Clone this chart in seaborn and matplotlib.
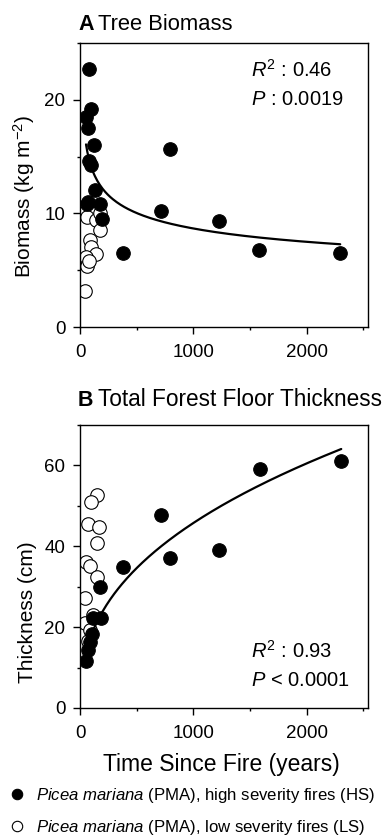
import numpy as np
import pandas as pd
import matplotlib
matplotlib.use("Agg")
import matplotlib.pyplot as plt
import seaborn as sns
from matplotlib.lines import Line2D
from matplotlib.ticker import MultipleLocator

# A: tree biomass (kg m-2) vs time since fire (years)
biomass_hs_age = [82, 53, 94, 67, 126, 82, 94, 132, 60, 70, 176, 196, 376, 713, 798, 1226, 1580, 2295]
biomass_hs = [22.7, 18.5, 19.2, 17.5, 16.0, 14.6, 14.3, 12.1, 10.8, 11.0, 10.8, 9.5, 6.5, 10.2, 15.7, 9.3, 6.8, 6.5]
biomass_ls_age = [59, 141, 176, 176, 88, 97, 141, 55, 65, 75, 44]
biomass_ls = [9.65, 9.4, 10.0, 8.5, 7.7, 7.06, 6.4, 6.2, 5.4, 5.8, 3.2]

# B: total forest floor thickness (cm)
floor_hs_age = [2304, 1590, 713, 798, 1226, 376, 176, 185, 117, 103, 88, 73, 53]
floor_hs = [61.0, 59.0, 47.7, 37.0, 39.0, 35.0, 30.0, 22.3, 22.3, 18.3, 16.3, 14.3, 11.7]
floor_ls_age = [152, 94, 73, 167, 147, 53, 88, 152, 44, 44, 117, 88, 68]
floor_ls = [52.8, 51.0, 45.5, 44.7, 40.8, 36.0, 35.2, 32.3, 27.3, 21.0, 23.0, 19.2, 16.5]

stats_a = [r"$R^2$ : 0.46", r"$P$ : 0.0019"]
stats_b = [r"$R^2$ : 0.93", r"$P$ < 0.0001"]

sns.set_theme(style="ticks")
plt.rcParams["font.family"] = ["Liberation Sans", "DejaVu Sans"]
plt.rcParams["mathtext.fontset"] = "custom"
plt.rcParams["mathtext.rm"] = "Liberation Sans"
plt.rcParams["mathtext.it"] = "Liberation Sans:italic"
plt.rcParams["axes.linewidth"] = 1.0
plt.rcParams["axes.edgecolor"] = "black"
# plain black text like the original figure
for key in ["text.color", "axes.labelcolor", "xtick.color", "ytick.color"]:
    plt.rcParams[key] = "black"


def power_fit(x, y):
    # y = a * x^b, fitted in log space on the high severity sites
    b, ln_a = np.polyfit(np.log(x), np.log(y), 1)
    xs = np.linspace(min(x), max(x), 200)
    return pd.DataFrame({"age": xs, "fit": np.exp(ln_a) * xs ** b})


def draw_panel(ax, hs_x, hs_y, ls_x, ls_y, ymax, ystep, letter, title, title_size,
               ylabel, stats, stats_y, ylab_y, title_y):
    sns.scatterplot(x=ls_x, y=ls_y, ax=ax, s=95, color="white", edgecolor="black",
                    linewidth=0.8, zorder=2)
    curve = power_fit(hs_x, hs_y)
    sns.lineplot(data=curve, x="age", y="fit", ax=ax, color="black", linewidth=1.6, zorder=3)
    sns.scatterplot(x=hs_x, y=hs_y, ax=ax, s=95, color="black", edgecolor="black",
                    linewidth=0.8, zorder=4)

    ax.set_xlim(0, 2540)
    ax.set_ylim(0, ymax)
    ax.xaxis.set_major_locator(MultipleLocator(1000))
    ax.xaxis.set_minor_locator(MultipleLocator(500))
    ax.yaxis.set_major_locator(MultipleLocator(ystep))
    ax.yaxis.set_minor_locator(MultipleLocator(ystep / 2))
    ax.tick_params(which="major", length=5, width=1.0, labelsize=13.5, color="black")
    ax.tick_params(which="minor", length=2.2, width=1.0, color="black")
    ax.tick_params(axis="x", which="major", pad=7)
    ax.tick_params(axis="y", which="major", pad=5.5)
    for sp in ax.spines.values():
        sp.set_visible(True)

    ax.set_xlabel("")
    ax.set_ylabel(ylabel, fontsize=15)
    ax.yaxis.set_label_coords(-0.148, ylab_y)

    ax.text(-0.007, title_y, letter, transform=ax.transAxes, fontsize=15.5, fontweight="bold",
            va="baseline", ha="left")
    ax.text(0.062, title_y, title, transform=ax.transAxes,
            fontsize=title_size, va="baseline", ha="left")
    ax.text(0.593, stats_y[0], stats[0], transform=ax.transAxes, fontsize=14.5, va="baseline")
    ax.text(0.593, stats_y[1], stats[1], transform=ax.transAxes, fontsize=14.5, va="baseline")


fig = plt.figure(figsize=(3.92, 8.4), dpi=100)
ax_a = fig.add_axes([80 / 392, 1 - 327 / 840, 288 / 392, 284 / 840])
ax_b = fig.add_axes([80 / 392, 1 - 708 / 840, 288 / 392, 283 / 840])

draw_panel(ax_a, biomass_hs_age, biomass_hs, biomass_ls_age, biomass_ls, 25, 10,
           "A", "Tree Biomass", 15.8, "Biomass (kg m$^{-2}$)", stats_a, [0.880, 0.782], 0.458, 1.046)
draw_panel(ax_b, floor_hs_age, floor_hs, floor_ls_age, floor_ls, 70, 20,
           "B", "Total Forest Floor Thickness", 16.3, "Thickness (cm)", stats_b, [0.176, 0.078], 0.34, 1.067)

ax_b.set_xlabel("Time Since Fire (years)", fontsize=16.5)
ax_b.xaxis.set_label_coords(0.49, -0.16)

handles = [
    Line2D([], [], marker="o", linestyle="", markersize=7.5, markerfacecolor="black",
           markeredgecolor="black", markeredgewidth=0.8),
    Line2D([], [], marker="o", linestyle="", markersize=7.5, markerfacecolor="white",
           markeredgecolor="black", markeredgewidth=0.8),
]
labels = [
    r"$\it{Picea\ mariana}$ (PMA), high severity fires (HS)",
    r"$\it{Picea\ mariana}$ (PMA), low severity fires (LS)",
]
fig.legend(handles, labels, loc="upper left", bbox_to_anchor=(4 / 392, 1 - 781 / 840),
           frameon=False, fontsize=12.1, handlelength=1.0, handletextpad=0.6,
           borderpad=0, borderaxespad=0.3, labelspacing=0.75)

fig.savefig("out.png", dpi=100)
